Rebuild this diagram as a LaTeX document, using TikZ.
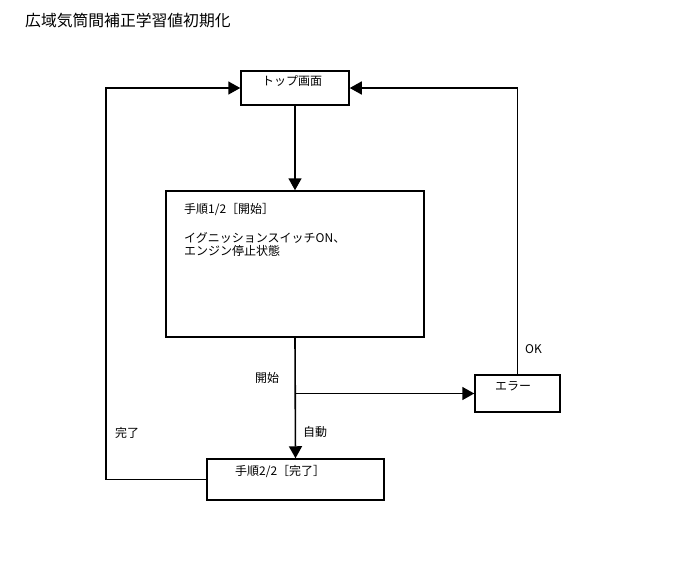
\documentclass[tikz,border=0pt]{standalone}
\usepackage{fontspec}
\setmainfont{Noto Sans CJK JP}
\usetikzlibrary{arrows.meta}
\begin{document}
\begin{tikzpicture}[x=1pt,y=-1pt,
  box/.style={draw=black,line width=1.5pt,inner sep=0pt,fill=white},
  lbl/.style={font=\fontsize{12}{14}\selectfont,inner sep=0pt,anchor=west},
  conn/.style={draw=black,line width=1.6pt,-{Triangle[length=12pt,width=13pt]}}]
\useasboundingbox (0,0) rectangle (688,560);
\node[font=\fontsize{15.8}{18}\selectfont,inner sep=0pt,anchor=west] (title) at (25,21) {広域気筒間補正学習値初期化};
% boxes
\node[box,minimum width=108pt,minimum height=34pt] (top) at (295,88) {};
\node[box,minimum width=258pt,minimum height=146pt] (b1) at (295,264) {};
\node[box,minimum width=85pt,minimum height=37pt] (err) at (517.5,393.5) {};
\node[box,minimum width=177pt,minimum height=41pt] (b2) at (295.5,479.5) {};
% box texts
\node[lbl] (ttop) at (262,81) {トップ画面};
\node[lbl,anchor=north west,align=left,font=\fontsize{12}{13}\selectfont] (tb1) at (184,203) {手順1/2［開始］\\[16pt]イグニッションスイッチON、\\エンジン停止状態};
\node[lbl] (terr) at (495,386) {エラー};
\node[lbl] (tb2) at (235,471) {手順2/2［完了］};
% connectors
\draw[conn] (top.south) -- (b1.north);
\draw[conn] (b1.south) -- (b2.north);
\coordinate (br) at (b1.south |- err.west);
\draw[conn] (br) -- (err.west);
\coordinate (ec) at (err.north |- top.east);
\draw[conn] (err.north) -- (ec) -- (top.east);
\coordinate (lc1) at ([xshift=-100pt]b2.west);
\coordinate (lc2) at (lc1 |- top.west);
\draw[conn] (b2.west) -- (lc1) -- (lc2) -- (top.west);
% labels
\node[lbl] (lstart) at (255,378) {開始};
\node[lbl] (lauto) at (303,432) {自動};
\node[lbl] (lok) at (525,349) {OK};
\node[lbl] (ldone) at (115,433) {完了};
\end{tikzpicture}
\end{document}
